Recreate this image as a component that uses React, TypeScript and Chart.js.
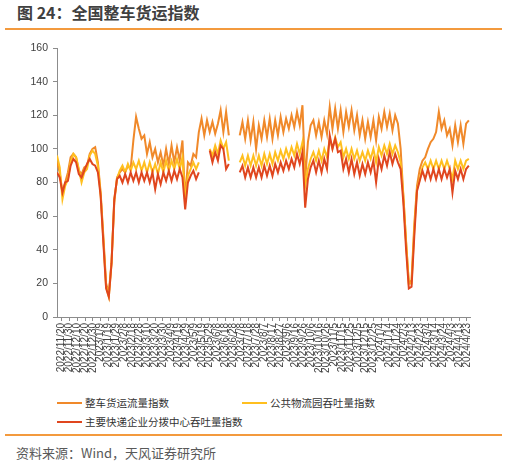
import React, { useEffect, useRef } from "react";
import { Chart, registerables } from "chart.js";

Chart.register(...registerables);

// x tick labels, one every 10 days starting 2022/11/20 (day 0)
const tickLabels = [
  "2022/11/20", "2022/11/30", "2022/12/10", "2022/12/20", "2022/12/30",
  "2023/1/9", "2023/1/19", "2023/1/29", "2023/2/8", "2023/2/18",
  "2023/2/28", "2023/3/10", "2023/3/20", "2023/3/30", "2023/4/9",
  "2023/4/19", "2023/4/29", "2023/5/9", "2023/5/19", "2023/5/29",
  "2023/6/8", "2023/6/18", "2023/6/28", "2023/7/8", "2023/7/18",
  "2023/7/28", "2023/8/7", "2023/8/17", "2023/8/27", "2023/9/6",
  "2023/9/16", "2023/9/26", "2023/10/6", "2023/10/16", "2023/10/26",
  "2023/11/5", "2023/11/15", "2023/11/25", "2023/12/5", "2023/12/15",
  "2023/12/25", "2024/1/4", "2024/1/14", "2024/1/24", "2024/2/3",
  "2024/2/13", "2024/2/23", "2024/3/4", "2024/3/14", "2024/3/24",
  "2024/4/3", "2024/4/13", "2024/4/23",
];
const TICK_STEP_DAYS = 10;

// samples: day offset = START_DAY + i * STEP_DAYS
const START_DAY = -6;
const STEP_DAYS = 3.5;

const truckFlow = [
  92, 86, 74, 80, 86, 95, 97, 95, 87, 85,
  89, 90, 97, 100, 101, 92, 74, 48, 20, 14,
  33, 68, 83, 86, 88, 86, 90, 88, 105, 119,
  112, 106, 108, 97, 104, 95, 100, 92, 98, 90,
  100, 91, 102, 92, 101, 93, 105, 70, 92, 90,
  97, 95, 110, 118, 108, 117, 110, 116, 109, 115,
  123, 110, 122, 108, null, null, null, 108, 116, 106,
  117, 105, 116, 100, 114, 106, 117, 107, 118, 106,
  117, 108, 119, 110, 118, 112, 120, 113, 122, 114,
  126, 82, 104, 114, 117, 108, 116, 107, 117, 109,
  125, 112, 124, 112, 123, 110, 122, 113, 123, 111,
  120, 108, 117, 106, 116, 107, 117, 105, 119, 112,
  122, 113, 121, 111, 120, 115, 100, 72, 45, 20,
  22, 55, 78, 88, 93, 95, 100, 104, 106, 110,
  122, 112, 117, 108, 112, 102, 114, 104, 114, 103,
  115, 117,
];

const parkThroughput = [
  96, 89, 70, 78, 82, 92, 97, 95, 88, 80,
  86, 88, 96, 99, 97, 90, 73, 46, 18, 12,
  32, 70, 82, 87, 90, 86, 91, 87, 92, 88,
  93, 87, 92, 86, 92, 86, 91, 85, 92, 86,
  93, 87, 93, 88, 94, 88, 95, 68, 84, 88,
  92, 88, 92, null, null, null, 100, 96, 102, 97,
  105, 100, 104, 93, null, null, null, 92, 96, 90,
  96, 90, 96, 90, 96, 90, 97, 91, 97, 91,
  98, 93, 99, 94, 100, 95, 101, 96, 103, 97,
  104, 78, 88, 94, 98, 93, 99, 93, 100, 95,
  106, 100, 107, 101, 104, 95, 100, 94, 100, 94,
  99, 93, 98, 93, 99, 94, 100, 92, 101, 96,
  102, 97, 103, 97, 102, 98, 92, 72, 44, 20,
  20, 52, 76, 82, 89, 92, 88, 93, 88, 93,
  88, 93, 88, 93, 88, 82, 93, 88, 93, 88,
  93, 94,
];

const expressThroughput = [
  86, 83, 74, 80, 81, 90, 94, 92, 85, 83,
  87, 91, 94, 91, 90, 86, 72, 44, 17, 12,
  32, 70, 82, 84, 80, 85, 80, 86, 81, 86,
  80, 86, 81, 86, 80, 86, 76, 85, 79, 86,
  81, 87, 81, 87, 82, 88, 83, 64, 80, 84,
  87, 82, 86, null, null, null, 99, 92, 98, 93,
  102, 100, 88, 91, null, null, null, 86, 90, 83,
  89, 83, 89, 83, 89, 83, 90, 84, 90, 84,
  91, 86, 92, 87, 93, 88, 94, 89, 97, 91,
  98, 65, 82, 89, 93, 86, 93, 86, 94, 88,
  108, 100, 106, 98, 99, 88, 94, 86, 94, 85,
  92, 84, 91, 85, 92, 86, 93, 80, 94, 88,
  96, 90, 98, 91, 97, 92, 88, 68, 40, 17,
  18, 48, 75, 81, 87, 82, 88, 82, 88, 82,
  88, 82, 88, 83, 88, 74, 87, 82, 88, 82,
  88, 90,
];

const seriesNames = ["整车货运流量指数", "公共物流园吞吐量指数", "主要快递企业分拨中心吞吐量指数"];
const seriesColors = ["#F0892A", "#FFBF1F", "#E0461E"];
const yTicks = [0, 20, 40, 60, 80, 100, 120, 140, 160];

function toPoints(values: (number | null)[]) {
  return values.map((v, i) => ({ x: START_DAY + i * STEP_DAYS, y: v }));
}

const FONT_CJK = '"Noto Sans CJK SC", "Noto Sans", sans-serif';
const FONT_LAT = '"Liberation Sans", Arial, sans-serif';

function ChartCanvas() {
  const ref = useRef<HTMLCanvasElement | null>(null);
  useEffect(() => {
    if (!ref.current) return;
    const all = [truckFlow, parkThroughput, expressThroughput];
    const chart = new Chart(ref.current, {
      type: "line",
      data: {
        datasets: all.map((vals, k) => ({
          label: seriesNames[k],
          data: toPoints(vals) as any,
          borderColor: seriesColors[k],
          backgroundColor: seriesColors[k],
          borderWidth: 2,
          pointRadius: 0,
          tension: 0,
          spanGaps: false,
          order: 2 - k,
        })),
      },
      options: {
        responsive: false,
        animation: false,
        parsing: false as any,
        layout: { padding: { top: 13, right: 38, left: 0, bottom: 0 } },
        plugins: { legend: { display: false }, tooltip: { enabled: false } },
        scales: {
          x: {
            type: "linear",
            min: -6,
            max: 524,
            afterBuildTicks: (axis: any) => {
              axis.ticks = tickLabels.map((_, k) => ({ value: k * TICK_STEP_DAYS }));
            },
            afterFit: (axis: any) => {
              axis.height = 73;
            },
            grid: { drawOnChartArea: false, drawTicks: true, tickLength: 4, color: "#8c8c8c" },
            border: { color: "#8c8c8c", width: 1 },
            ticks: {
              autoSkip: false,
              maxRotation: 90,
              minRotation: 90,
              padding: 2,
              color: "#404040",
              font: { size: 10, family: FONT_LAT },
              callback: (v: any) => tickLabels[Math.round(Number(v) / TICK_STEP_DAYS)] ?? "",
            },
          },
          y: {
            type: "linear",
            min: 0,
            max: 160,
            afterBuildTicks: (axis: any) => {
              axis.ticks = yTicks.map((v) => ({ value: v }));
            },
            afterFit: (axis: any) => {
              axis.width = 57;
            },
            grid: { drawOnChartArea: false, drawTicks: true, tickLength: 4, color: "#8c8c8c" },
            border: { color: "#8c8c8c", width: 1 },
            ticks: {
              padding: 5,
              color: "#404040",
              font: { size: 10.5, family: FONT_LAT },
            },
          },
        },
      },
    });
    return () => chart.destroy();
  }, []);
  return <canvas ref={ref} width={508} height={355} style={{ width: 508, height: 355, display: "block" }} />;
}

function LegendItem({ color, text, left, top }: { color: string; text: string; left: number; top: number }) {
  return (
    <div style={{ position: "absolute", left, top: top - 8, height: 16, display: "flex", alignItems: "center" }}>
      <span style={{ display: "inline-block", width: 25, height: 2, background: color, marginRight: 3 }} />
      <span style={{ fontFamily: FONT_CJK, fontSize: 10.5, color: "#333", whiteSpace: "nowrap", lineHeight: "16px" }}>{text}</span>
    </div>
  );
}

export default function App() {
  return (
    <div style={{ position: "absolute", left: 0, top: 0, width: 508, height: 465, background: "#fff", overflow: "hidden" }}>
      <div style={{ position: "absolute", left: 17, top: 2, fontFamily: FONT_CJK, fontSize: 16, fontWeight: 700, color: "#404040", lineHeight: "20px", whiteSpace: "nowrap" }}>
        图 24：全国整车货运指数
      </div>
      <div style={{ position: "absolute", left: 5, top: 28, width: 497, height: 2, background: "#F39A3E" }} />
      <div style={{ position: "absolute", left: 0, top: 35 }}>
        <ChartCanvas />
      </div>
      <LegendItem color={seriesColors[0]} text={seriesNames[0]} left={57} top={403} />
      <LegendItem color={seriesColors[1]} text={seriesNames[1]} left={242} top={403} />
      <LegendItem color={seriesColors[2]} text={seriesNames[2]} left={57} top={422} />
      <div style={{ position: "absolute", left: 5, top: 434, width: 497, height: 2, background: "#F39A3E" }} />
      <div style={{ position: "absolute", left: 16, top: 444, fontFamily: FONT_CJK, fontSize: 13, color: "#595959", lineHeight: "18px", whiteSpace: "nowrap" }}>
        资料来源：Wind，天风证券研究所
      </div>
    </div>
  );
}
